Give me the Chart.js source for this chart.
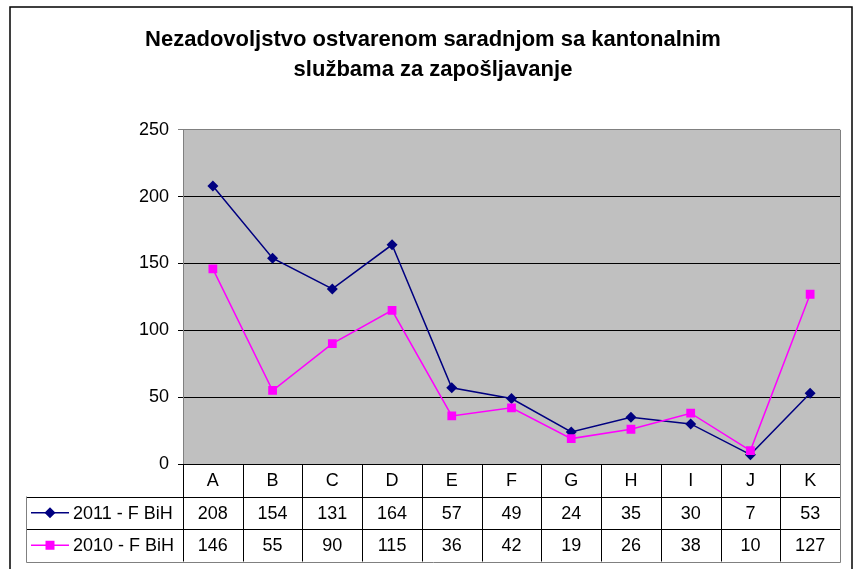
<!DOCTYPE html>
<html lang="bs">
<head>
    <meta charset="UTF-8">
    <title>Nezadovoljstvo ostvarenom saradnjom</title>
    <script src="https://cdn.jsdelivr.net/npm/chart.js"></script>
    <style>
        body { margin: 0; padding: 0; background: #fff; }
        #wrap { width: 856px; height: 569px; position: relative; }
    </style>
</head>
<body>
<div id="wrap"><canvas id="chart" width="856" height="569"></canvas></div>
<script>
    // podaci
    const categories = ["A", "B", "C", "D", "E", "F", "G", "H", "I", "J", "K"];
    const values2011 = [208, 154, 131, 164, 57, 49, 24, 35, 30, 7, 53];
    const values2010 = [146, 55, 90, 115, 36, 42, 19, 26, 38, 10, 127];
    const seriesNames = ["2011 - F BiH", "2010 - F BiH"];
    const yTicks = [0, 50, 100, 150, 200, 250];

    const FONT = "'Liberation Sans', Arial, sans-serif";
    const NAVY = "#000080";
    const PINK = "#FF00FF";

    // siva pozadina plot area
    const plotBg = {
        id: "plotBg",
        beforeDraw(chart) {
            const a = chart.chartArea, ctx = chart.ctx;
            ctx.save();
            ctx.fillStyle = "#fff";
            ctx.fillRect(0, 0, chart.width, chart.height);
            ctx.fillStyle = "#c0c0c0";
            ctx.fillRect(a.left, a.top, a.right - a.left, a.bottom - a.top);
            ctx.restore();
        }
    };

    // tabela s podacima ispod grafika
    const dataTable = {
        id: "dataTable",
        afterDraw(chart) {
            const ctx = chart.ctx, a = chart.chartArea, xs = chart.scales.x;
            const step = xs.getPixelForValue(1) - xs.getPixelForValue(0);
            const rowH = 32.5;
            const top = a.bottom, legLeft = 26;
            const bottom = top + rowH * 3;
            const rows = [values2011, values2010];
            const colors = [NAVY, PINK];

            ctx.save();
            ctx.font = "18px " + FONT;
            ctx.fillStyle = "#000";
            ctx.textAlign = "center";
            ctx.textBaseline = "middle";
            categories.forEach((c, i) => {
                const x = xs.getPixelForValue(i);
                ctx.fillText(c, x, top + rowH / 2 + 1);
                rows.forEach((r, j) => {
                    ctx.fillText(String(r[i]), x, top + rowH * (j + 1.5) + 1);
                });
            });

            // legenda u tabeli
            rows.forEach((r, j) => {
                const y = top + rowH * (j + 1.5);
                ctx.strokeStyle = colors[j];
                ctx.lineWidth = 1.5;
                ctx.beginPath();
                ctx.moveTo(31, y); ctx.lineTo(69, y);
                ctx.stroke();
                ctx.fillStyle = colors[j];
                ctx.beginPath();
                if (j === 0) {
                    ctx.moveTo(50, y - 5.5); ctx.lineTo(55.5, y); ctx.lineTo(50, y + 5.5); ctx.lineTo(44.5, y);
                } else {
                    ctx.rect(45.5, y - 4.5, 9, 9);
                }
                ctx.fill();
                ctx.fillStyle = "#000";
                ctx.textAlign = "left";
                ctx.fillText(seriesNames[j], 73, y + 1);
            });

            // linije tabele
            ctx.lineWidth = 1;
            ctx.strokeStyle = "#000";
            ctx.beginPath();
            for (let j = 1; j <= 2; j++) {
                ctx.moveTo(legLeft, Math.round(top + rowH * j) + 0.5);
                ctx.lineTo(a.right, Math.round(top + rowH * j) + 0.5);
            }
            for (let i = 0; i < categories.length; i++) {
                const x = Math.round(xs.getPixelForValue(i) - step / 2) + 0.5;
                ctx.moveTo(x, top);
                ctx.lineTo(x, bottom);
            }
            ctx.stroke();

            ctx.strokeStyle = "#808080";
            ctx.beginPath();
            ctx.moveTo(legLeft + 0.5, top + rowH);
            ctx.lineTo(legLeft + 0.5, Math.round(bottom) + 0.5);
            ctx.lineTo(Math.round(a.right) + 0.5, Math.round(bottom) + 0.5);
            ctx.lineTo(Math.round(a.right) + 0.5, a.top);
            ctx.stroke();

            // x osa
            ctx.strokeStyle = "#000";
            ctx.beginPath();
            ctx.moveTo(a.left, Math.round(a.bottom) + 0.5);
            ctx.lineTo(a.right, Math.round(a.bottom) + 0.5);
            ctx.stroke();

            // okvir
            ctx.lineWidth = 1.5;
            ctx.strokeStyle = "#000";
            ctx.strokeRect(10, 7, 842, 580);
            ctx.restore();
        }
    };

    new Chart(document.getElementById("chart"), {
        type: "line",
        data: {
            labels: categories,
            datasets: [
                {
                    label: seriesNames[0],
                    data: values2011,
                    borderColor: NAVY,
                    backgroundColor: NAVY,
                    borderWidth: 1.5,
                    pointStyle: "rectRot",
                    pointRadius: 5.5,
                    pointBorderWidth: 0,
                    tension: 0,
                    order: 1
                },
                {
                    label: seriesNames[1],
                    data: values2010,
                    borderColor: PINK,
                    backgroundColor: PINK,
                    borderWidth: 1.5,
                    pointStyle: "rect",
                    pointRadius: 6.2,
                    pointBorderWidth: 0,
                    tension: 0,
                    order: 0
                }
            ]
        },
        options: {
            responsive: false,
            animation: false,
            layout: { padding: { left: 26, right: 16, top: 0, bottom: 105 } },
            plugins: {
                legend: { display: false },
                tooltip: { enabled: false },
                title: {
                    display: true,
                    text: ["Nezadovoljstvo ostvarenom saradnjom sa kantonalnim", "službama za zapošljavanje"],
                    color: "#000",
                    font: { family: FONT, size: 22, weight: "bold", lineHeight: 1.36 },
                    padding: { top: 25, bottom: 45 }
                }
            },
            scales: {
                x: {
                    display: false,
                    offset: true
                },
                y: {
                    min: 0,
                    max: 250,
                    afterFit(scale) { scale.width = 157; },
                    afterBuildTicks(scale) { scale.ticks = yTicks.map(v => ({ value: v })); },
                    ticks: {
                        color: "#000",
                        padding: 9,
                        font: { family: FONT, size: 18 }
                    },
                    grid: {
                        color: ctx => (ctx.tick && ctx.tick.value === 250) ? "#808080" : "#000",
                        tickLength: 5,
                        lineWidth: 1
                    },
                    border: { color: "#808080" }
                }
            }
        },
        plugins: [plotBg, dataTable]
    });
</script>
</body>
</html>
